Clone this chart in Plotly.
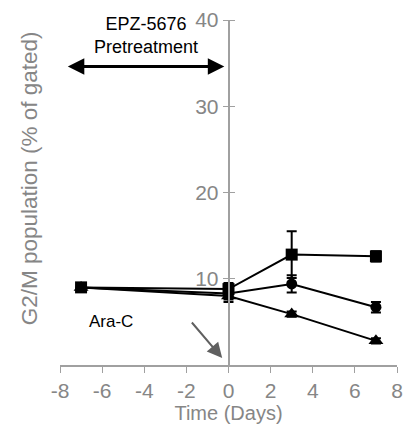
import plotly.graph_objects as go

days = [-7, 0, 3, 7]
sq_vals = [9.0, 8.8, 12.8, 12.6]
sq_err = [0.3, 0.7, 2.7, 0.6]
ci_vals = [9.0, 8.3, 9.4, 6.7]
ci_err = [0.3, 0.7, 1.0, 0.6]
tr_vals = [9.0, 8.0, 5.9, 2.8]
tr_err = [0.2, 0.7, 0.3, 0.3]
xticks = [-8, -6, -4, -2, 0, 2, 4, 6, 8]
xticklabels = ["-8", "-6", "-4", "-2", "0", "2", "4", "6", "8"]
yticks = [10, 20, 30, 40]

gray = "#868686"
fig = go.Figure()
# invisible helper trace so the right-hand tick half (yaxis2) is drawn
fig.add_trace(go.Scatter(x=days, y=sq_vals, yaxis="y2", mode="lines",
                         line=dict(width=0), opacity=0, hoverinfo="skip",
                         showlegend=False))
for vals, err, sym, size in [(sq_vals, sq_err, "square", 12),
                             (ci_vals, ci_err, "circle", 11),
                             (tr_vals, tr_err, "triangle-up", 13)]:
    fig.add_trace(go.Scatter(
        x=days, y=vals, mode="lines+markers",
        line=dict(color="black", width=2),
        marker=dict(symbol=sym, size=size, color="black"),
        error_y=dict(type="data", array=err, color="black", thickness=2, width=5),
        showlegend=False))

font = "Liberation Sans, Arial, sans-serif"
fig.update_layout(
    width=411, height=434,
    margin=dict(l=60, r=8, t=16, b=69),
    paper_bgcolor="white", plot_bgcolor="white",
    font=dict(family=font, color=gray, size=18),
    xaxis=dict(range=[-8, 8], tickvals=xticks, ticktext=xticklabels,
               showgrid=False, zeroline=False,
               showline=True, linecolor="#a0a0a0", linewidth=1.5,
               ticks="outside", ticklen=6, tickcolor="#a0a0a0",
               tickfont=dict(size=21, color=gray),
               title=dict(text="Time (Days)", font=dict(size=20, color=gray), standoff=2)),
    yaxis=dict(range=[0, 40], tickvals=yticks, showgrid=False, zeroline=False,
               showline=True, linecolor="#a0a0a0", linewidth=1.5,
               anchor="free", position=0.5,
               ticks="outside", ticklen=5, tickcolor="#a0a0a0",
               tickfont=dict(size=21, color=gray)),
    yaxis2=dict(range=[0, 40], tickvals=yticks, showgrid=False, zeroline=False,
                overlaying="y", side="right", anchor="free", position=0.5,
                showline=False, ticks="outside", ticklen=5, tickcolor="#a0a0a0",
                showticklabels=False),
)
fig.add_annotation(text="G2/M population (% of gated)", xref="paper", yref="paper",
                   x=-0.09, y=0.54, textangle=-90, showarrow=False,
                   xanchor="center", yanchor="middle",
                   font=dict(size=22.5, color=gray, family=font))
fig.add_annotation(text="EPZ-5676<br>Pretreatment", x=-3.9, y=38.2, showarrow=False,
                   font=dict(size=18, color="black", family=font))
fig.add_annotation(x=-0.2, y=34.6, ax=-7.7, ay=34.6, axref="x", ayref="y",
                   text="", showarrow=True, arrowhead=2, startarrowhead=2,
                   arrowside="end+start", arrowsize=1.1, arrowwidth=3, arrowcolor="black")
fig.add_annotation(text="Ara-C", x=-5.6, y=5.0, showarrow=False,
                   font=dict(size=17, color="black", family=font))
fig.add_annotation(x=-0.3, y=0.8, ax=-1.8, ay=5.1, axref="x", ayref="y",
                   text="", showarrow=True, arrowhead=2, arrowsize=1.5, arrowwidth=2,
                   arrowcolor="#606060")
fig.write_html("out.html")
